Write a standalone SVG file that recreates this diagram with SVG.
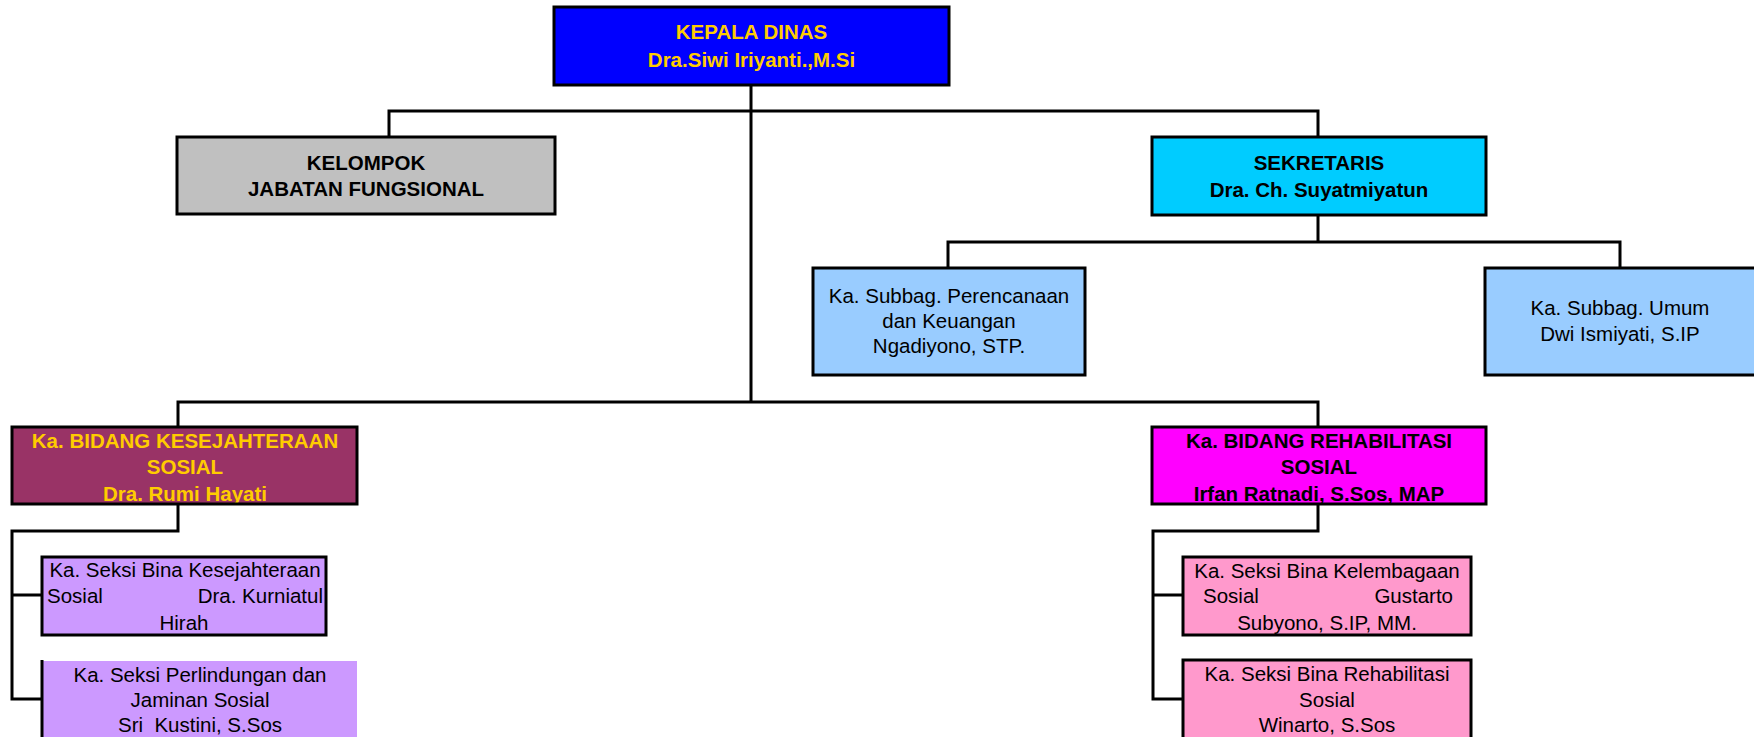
<svg xmlns="http://www.w3.org/2000/svg" width="1754" height="737" viewBox="0 0 1754 737">
<style>
.b{stroke:#000;stroke-width:3;fill:none}
.c{stroke:#000;stroke-width:3;fill:none;stroke-linecap:square}
text{font-family:"Liberation Sans",Arial,sans-serif;font-size:20.5px;text-anchor:middle;fill:#000}
.bo{font-weight:bold}
.gold{fill:#FFCC00}
.s{text-anchor:start}
.e{text-anchor:end}
</style>
<rect width="1754" height="737" fill="#fff"/>
<g id="connectors">
<path class="c" d="M751 85V402M389 137V111H1318V137M1318 215V242M948 268V242H1620V268M178 427V402H1318V427"/>
<path class="c" d="M178 504V531H12V699H42M12 595H42"/>
<path class="c" d="M1318 504V531H1153V699H1183M1153 595H1183"/>
</g>
<g id="kepala">
<rect x="554" y="7" width="395" height="78" fill="#0000FF"/>
<text class="bo gold" x="751.5" y="39">KEPALA DINAS</text>
<text class="bo gold" x="751.5" y="67">Dra.Siwi Iriyanti.,M.Si</text>
<rect class="b" x="554" y="7" width="395" height="78"/>
</g>
<g id="kelompok">
<rect x="177" y="137" width="378" height="77" fill="#C0C0C0"/>
<text class="bo" x="366" y="170">KELOMPOK</text>
<text class="bo" x="366" y="196">JABATAN FUNGSIONAL</text>
<rect class="b" x="177" y="137" width="378" height="77"/>
</g>
<g id="sekretaris">
<rect x="1152" y="137" width="334" height="78" fill="#00CCFF"/>
<text class="bo" x="1319" y="170">SEKRETARIS</text>
<text class="bo" x="1319" y="197">Dra. Ch. Suyatmiyatun</text>
<rect class="b" x="1152" y="137" width="334" height="78"/>
</g>
<g id="subbag-perencanaan">
<rect x="813" y="268" width="272" height="107" fill="#99CCFF"/>
<text x="949" y="303">Ka. Subbag. Perencanaan</text>
<text x="949" y="328">dan Keuangan</text>
<text x="949" y="353">Ngadiyono, STP.</text>
<rect class="b" x="813" y="268" width="272" height="107"/>
</g>
<g id="subbag-umum">
<rect x="1485" y="268" width="272" height="107" fill="#99CCFF"/>
<text x="1620" y="315">Ka. Subbag. Umum</text>
<text x="1620" y="341">Dwi Ismiyati, S.IP</text>
<rect class="b" x="1485" y="268" width="272" height="107"/>
</g>
<g id="bidang-kesejahteraan">
<rect x="12" y="427" width="345" height="77" fill="#993366"/>
<text class="bo gold" x="185" y="448">Ka. BIDANG KESEJAHTERAAN</text>
<text class="bo gold" x="185" y="474">SOSIAL</text>
<text class="bo gold" x="185" y="501">Dra. Rumi Hayati</text>
<rect class="b" x="12" y="427" width="345" height="77"/>
</g>
<g id="bidang-rehabilitasi">
<rect x="1152" y="427" width="334" height="77" fill="#FF00FF"/>
<text class="bo" x="1319" y="448">Ka. BIDANG REHABILITASI</text>
<text class="bo" x="1319" y="474">SOSIAL</text>
<text class="bo" x="1319" y="501">Irfan Ratnadi, S.Sos, MAP</text>
<rect class="b" x="1152" y="427" width="334" height="77"/>
</g>
<g id="seksi-bina-kesejahteraan">
<rect x="42" y="557" width="284" height="78" fill="#CC99FF"/>
<text x="185" y="577">Ka. Seksi Bina Kesejahteraan</text>
<text class="s" x="47" y="603">Sosial</text>
<text class="e" x="323" y="603">Dra. Kurniatul</text>
<text x="184" y="630">Hirah</text>
<rect class="b" x="42" y="557" width="284" height="78"/>
</g>
<g id="seksi-perlindungan">
<rect x="42" y="661" width="315" height="80" fill="#CC99FF"/>
<text x="200" y="682">Ka. Seksi Perlindungan dan</text>
<text x="200" y="707">Jaminan Sosial</text>
<text x="200" y="732" xml:space="preserve">Sri  Kustini, S.Sos</text>
<path class="b" d="M42 660V740"/>
</g>
<g id="seksi-kelembagaan">
<rect x="1183" y="557" width="288" height="78" fill="#FF99CC"/>
<text x="1327" y="578">Ka. Seksi Bina Kelembagaan</text>
<text class="s" x="1203" y="603">Sosial</text>
<text class="e" x="1453" y="603">Gustarto</text>
<text x="1327" y="630">Subyono, S.IP, MM.</text>
<rect class="b" x="1183" y="557" width="288" height="78"/>
</g>
<g id="seksi-rehabilitasi">
<rect x="1183" y="660" width="288" height="82" fill="#FF99CC"/>
<text x="1327" y="681">Ka. Seksi Bina Rehabilitasi</text>
<text x="1327" y="707">Sosial</text>
<text x="1327" y="732">Winarto, S.Sos</text>
<rect class="b" x="1183" y="660" width="288" height="82"/>
</g>
</svg>
